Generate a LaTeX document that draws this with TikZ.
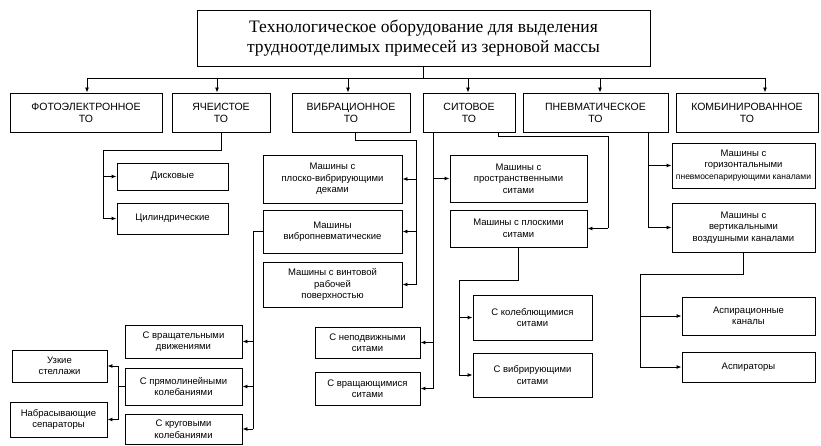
\documentclass[tikz,border=0pt]{standalone}
\usepackage{fontspec}
\setmainfont{Liberation Sans}
\newfontfamily\titlefont{Liberation Serif}
\usetikzlibrary{arrows.meta}
\tikzset{
  box/.style={draw, line width=0.9pt, align=center, inner sep=1pt,
    font=\fontsize{9.5}{11.5}\selectfont},
  topbox/.style={box, font=\fontsize{10.5}{12}\selectfont},
  ln/.style={line width=0.9pt},
  arr/.style={line width=0.9pt, -{Latex[length=5pt,width=4pt]}}
}
\begin{document}
\begin{tikzpicture}[x=1pt,y=-1pt]
\useasboundingbox (0,0) rectangle (821,446);
% title
\node[draw, line width=0.9pt, minimum width=453pt, minimum height=56pt, align=center,
  font=\titlefont\fontsize{17.5}{20.5}\selectfont] (title) at (423.5,38)
  {Технологическое оборудование для выделения\\трудноотделимых примесей из зерновой массы};
% top level
\node[topbox, minimum width=152pt, minimum height=39pt] (foto) at (86,112.5) {ФОТОЭЛЕКТРОННОЕ\\ТО};
\node[topbox, minimum width=98pt, minimum height=39pt] (yach) at (221,112.5) {ЯЧЕИСТОЕ\\ТО};
\node[topbox, minimum width=118pt, minimum height=39pt] (vib) at (351,112.5) {ВИБРАЦИОННОЕ\\ТО};
\node[topbox, minimum width=92pt, minimum height=39pt] (sit) at (469,112.5) {СИТОВОЕ\\ТО};
\node[topbox, minimum width=145pt, minimum height=39pt] (pnev) at (595.5,112.5) {ПНЕВМАТИЧЕСКОЕ\\ТО};
\node[topbox, minimum width=142pt, minimum height=39pt] (komb) at (747,112.5) {КОМБИНИРОВАННОЕ\\ТО};
% bus
\coordinate (b1) at (87,78);
\coordinate (b2) at (217,78);
\coordinate (b3) at (348,78);
\coordinate (b4) at (468,78);
\coordinate (b5) at (600,78);
\coordinate (b6) at (765,78);
\draw[ln] (b1) -- (b6);
\draw[ln] (title.south) -- (title.south |- b1);
\draw[arr] (b1) -- (foto.north -| b1);
\draw[arr] (b2) -- (yach.north -| b2);
\draw[arr] (b3) -- (vib.north -| b3);
\draw[arr] (b4) -- (sit.north -| b4);
\draw[arr] (b5) -- (pnev.north -| b5);
\draw[arr] (b6) -- (komb.north -| b6);
% yacheistoe
\node[box, minimum width=111pt, minimum height=27pt] (disk) at (172.5,176.5) {Дисковые};
\node[box, minimum width=111pt, minimum height=31pt] (cyl) at (172.5,218.5) {Цилиндрические};
\coordinate (yj) at (103,150);
\draw[ln] (yach.south) |- (yj) -- (yj |- cyl.west);
\draw[arr] (yj |- disk.west) -- (disk.west);
\draw[arr] (yj |- cyl.west) -- (cyl.west);
% vibration
\node[box, minimum width=139pt, minimum height=48pt] (v1) at (332.5,179) {Машины с\\плоско-вибрирующими\\деками};
\node[box, minimum width=139pt, minimum height=43pt] (v2) at (332.5,231.5) {Машины\\вибропневматические};
\node[box, minimum width=139pt, minimum height=45pt] (v3) at (332.5,284.5) {Машины с винтовой\\рабочей\\поверхностью};
\coordinate (vj0) at (355,132);
\coordinate (vj) at (416,140);
\draw[ln] (vj0) |- (vj) -- (vj |- v3.east);
\draw[arr] (vj |- v1.east) -- (v1.east);
\draw[arr] (vj |- v2.east) -- (v2.east);
\draw[arr] (vj |- v3.east) -- (v3.east);
% vibropneumatic children
\node[box, minimum width=117pt, minimum height=33pt] (vb1) at (183.5,341.5) {С вращательными\\движениями};
\node[box, minimum width=117pt, minimum height=37pt] (vb2) at (183.5,386.5) {С прямолинейными\\колебаниями};
\node[box, minimum width=117pt, minimum height=30pt] (vb3) at (183.5,429) {С круговыми\\колебаниями};
\coordinate (vbj) at (253,231.5);
\draw[ln] (v2.west) -- (vbj) -- (vbj |- vb3.east);
\draw[arr] (vbj |- vb1.east) -- (vb1.east);
\draw[arr] (vbj |- vb2.east) -- (vb2.east);
\draw[arr] (vbj |- vb3.east) -- (vb3.east);
% far left
\node[box, minimum width=95pt, minimum height=32pt] (uz) at (59.5,366) {Узкие\\стеллажи};
\node[box, minimum width=97pt, minimum height=35pt] (nab) at (58.5,419.5) {Набрасывающие\\сепараторы};
\coordinate (uj) at (118,366);
\draw[ln] (vb2.west) -- (uj |- vb2.west);
\draw[ln] (uj) -- (uj |- nab.east);
\draw[arr] (uj) -- (uz.east);
\draw[arr] (uj |- nab.east) -- (nab.east);
% sieve
\node[box, minimum width=137pt, minimum height=47pt] (s1) at (518.5,178.5) {Машины с\\пространственными\\ситами};
\node[box, minimum width=137pt, minimum height=37pt] (s2) at (518.5,228.5) {Машины с плоскими\\ситами};
\coordinate (sj) at (433,132);
\draw[ln] (sj) -- (433,388.5);
\draw[arr] (sj |- s1.west) -- (s1.west);
\node[box, minimum width=105pt, minimum height=31pt] (bc1) at (367.5,342.5) {С неподвижными\\ситами};
\node[box, minimum width=105pt, minimum height=33pt] (bc2) at (367.5,388.5) {С вращающимися\\ситами};
\draw[arr] (sj |- bc1.east) -- (bc1.east);
\draw[arr] (sj |- bc2.east) -- (bc2.east);
\coordinate (sr0) at (498,132);
\coordinate (sr) at (608,136);
\draw[ln] (sr0) |- (sr) -- (sr |- s2.east);
\draw[arr] (sr |- s2.east) -- (s2.east);
% flat sieve children
\node[box, minimum width=119pt, minimum height=45pt] (sc1) at (532.5,317.5) {С колеблющимися\\ситами};
\node[box, minimum width=119pt, minimum height=44pt] (sc2) at (532.5,375) {С вибрирующими\\ситами};
\coordinate (scj) at (459,280);
\draw[ln] (s2.south) |- (scj) -- (scj |- sc2.west);
\draw[arr] (scj |- sc1.west) -- (sc1.west);
\draw[arr] (scj |- sc2.west) -- (sc2.west);
% pneumatic / combined
\node[box, minimum width=143pt, minimum height=45pt] (k1) at (743.5,165.5) {Машины с\\горизонтальными\\{\fontsize{8.5}{11}\selectfont пневмосепарирующими каналами}};
\node[box, minimum width=143pt, minimum height=49pt] (k2) at (743.5,227.5) {Машины с\\вертикальными\\воздушными каналами};
\coordinate (kj) at (648,132);
\draw[ln] (kj) -- (kj |- k2.west);
\draw[arr] (kj |- k1.west) -- (k1.west);
\draw[arr] (kj |- k2.west) -- (k2.west);
\node[box, minimum width=133pt, minimum height=38pt] (k3) at (748.5,316) {Аспирационные\\каналы};
\node[box, minimum width=133pt, minimum height=30pt] (k4) at (748.5,367) {Аспираторы};
\coordinate (kk) at (640,274);
\draw[ln] (k2.south) |- (kk) -- (kk |- k4.west);
\draw[arr] (kk |- k3.west) -- (k3.west);
\draw[arr] (kk |- k4.west) -- (k4.west);
\end{tikzpicture}
\end{document}
